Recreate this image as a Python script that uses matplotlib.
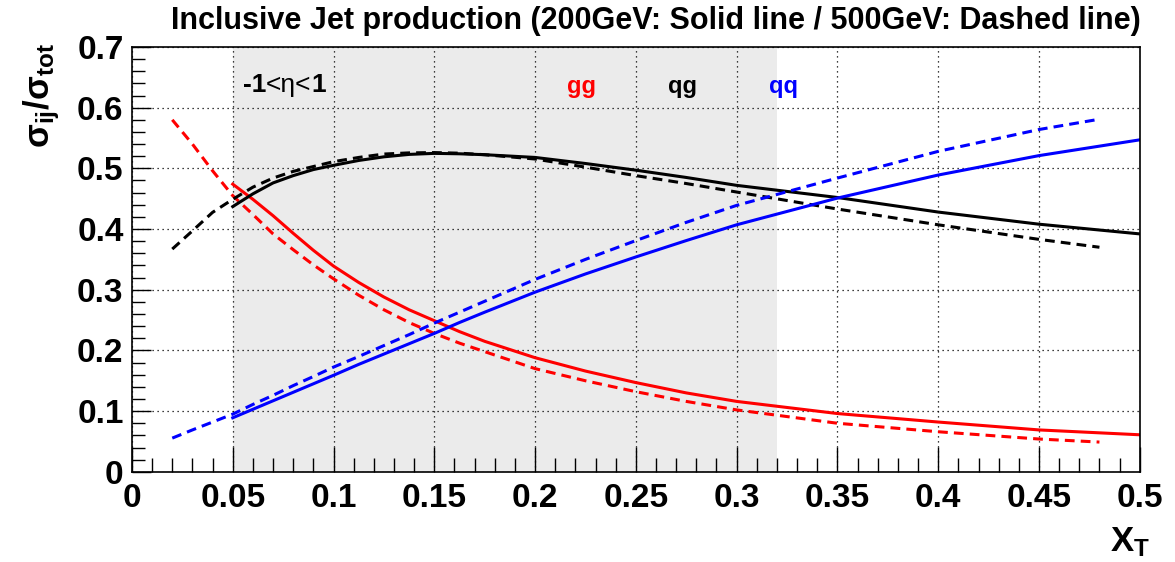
import numpy as np
import matplotlib
matplotlib.use('Agg')
import matplotlib.pyplot as plt
from matplotlib.ticker import MultipleLocator, FuncFormatter

plt.rcParams['font.family'] = ['Liberation Sans', 'DejaVu Sans']
plt.rcParams['mathtext.fontset'] = 'custom'
plt.rcParams['mathtext.rm'] = 'Liberation Sans'
plt.rcParams['mathtext.it'] = 'Liberation Sans:italic'
plt.rcParams['mathtext.bf'] = 'Liberation Sans:bold'

# x_T 取值点 (200GeV 实线 / 500GeV 虚线)
xt_200 = [0.05, 0.06, 0.07, 0.08, 0.09, 0.1, 0.1125, 0.125, 0.1375, 0.15, 0.1625, 0.175,
          0.2, 0.225, 0.25, 0.275, 0.3, 0.35, 0.4, 0.45, 0.5]
xt_500 = [0.02, 0.03, 0.04, 0.05, 0.06, 0.07, 0.08, 0.09, 0.1, 0.1125, 0.125, 0.1375, 0.15,
          0.1625, 0.175, 0.2, 0.225, 0.25, 0.275, 0.3, 0.35, 0.4, 0.45, 0.48]

# gg
gg_200 = [0.474, 0.449, 0.422, 0.393, 0.365, 0.339, 0.312, 0.288, 0.267, 0.249, 0.231, 0.215,
          0.188, 0.166, 0.147, 0.130, 0.116, 0.096, 0.082, 0.069, 0.061]
gg_500 = [0.580, 0.540, 0.496, 0.455, 0.424, 0.392, 0.366, 0.341, 0.318, 0.291, 0.267, 0.246,
          0.228, 0.212, 0.198, 0.170, 0.150, 0.132, 0.116, 0.102, 0.080, 0.066, 0.054, 0.049]
# qg
qg_200 = [0.437, 0.458, 0.476, 0.488, 0.498, 0.505, 0.513, 0.519, 0.523, 0.5247, 0.524, 0.5225,
          0.518, 0.508, 0.497, 0.485, 0.472, 0.452, 0.428, 0.408, 0.392]
qg_500 = [0.367, 0.397, 0.4275, 0.449, 0.469, 0.484, 0.495, 0.503, 0.511, 0.518, 0.5236, 0.5255,
          0.526, 0.525, 0.5225, 0.5154, 0.502, 0.488, 0.475, 0.461, 0.433, 0.407, 0.383, 0.370]
# qq
qq_200 = [0.089, 0.103, 0.117, 0.131, 0.145, 0.159, 0.177, 0.194, 0.211, 0.228, 0.246, 0.263,
          0.296, 0.326, 0.354, 0.381, 0.407, 0.451, 0.489, 0.521, 0.547]
qq_500 = [0.0555, 0.069, 0.082, 0.095, 0.111, 0.126, 0.142, 0.157, 0.1725, 0.190, 0.208, 0.226,
          0.245, 0.263, 0.281, 0.317, 0.350, 0.381, 0.411, 0.439, 0.484, 0.528, 0.564, 0.581]

eta_range = (0.05, 0.32)

fig = plt.figure(figsize=(11.75, 5.62), dpi=100)
ax = fig.add_axes([0.1123, 0.1605, 0.8577, 0.7559])

ax.axvspan(eta_range[0], eta_range[1], color='#ebebeb', lw=0, zorder=0)

dash = (0, (3.2, 2.0))
lw = 2.2
for ys200, ys500, c in [(gg_200, gg_500, '#ff0000'), (qg_200, qg_500, 'black'), (qq_200, qq_500, '#0000ff')]:
    ax.plot(xt_200, ys200, color=c, lw=lw, zorder=3, solid_joinstyle='round')
    ax.plot(xt_500, ys500, color=c, lw=lw, ls=dash, zorder=3)

ax.set_xlim(0, 0.5)
ax.set_ylim(0, 0.7)
ax.xaxis.set_major_locator(MultipleLocator(0.05))
ax.xaxis.set_minor_locator(MultipleLocator(0.01))
ax.yaxis.set_major_locator(MultipleLocator(0.1))
ax.yaxis.set_minor_locator(MultipleLocator(0.02))
fmt = FuncFormatter(lambda v, p: '%g' % round(v, 3))
ax.xaxis.set_major_formatter(fmt)
ax.yaxis.set_major_formatter(fmt)
ax.tick_params(which='both', direction='in', top=False, right=False, width=1.0, colors='black')
ax.tick_params(axis='x', which='major', length=18, pad=8, labelsize=24)
ax.tick_params(axis='x', which='minor', length=10)
ax.tick_params(axis='y', which='major', length=14, pad=6, labelsize=24)
ax.tick_params(axis='y', which='minor', length=9)
for lab in ax.get_xticklabels() + ax.get_yticklabels():
    lab.set_fontweight('bold')
ax.grid(True, which='major', color='black', ls=(0, (1, 3)), lw=0.9, zorder=1)
ax.set_axisbelow(False)
for s in ax.spines.values():
    s.set_linewidth(1.2)
    s.set_zorder(4)

fig.text(0.558, 0.962, 'Inclusive Jet production (200GeV: Solid line / 500GeV: Dashed line)',
         ha='center', va='center', fontsize=22, fontweight='bold')
fig.text(0.035, 0.83, r'$\mathbf{\sigma_{ij}/\sigma_{tot}}$', rotation=90, ha='center', va='center', fontsize=25)
fig.text(0.962, 0.035, r'$\mathbf{X_{T}}$', ha='center', va='center', fontsize=25)

# -1<η<1 : 数字加粗, 符号不加粗
t1 = ax.text(0.055, 0.617, '-1', fontsize=19, fontweight='bold', va='bottom', ha='left')
t2 = ax.annotate('<η<', xy=(1, 0), xycoords=t1, fontsize=19, va='bottom', ha='left')
ax.annotate('1', xy=(1, 0), xycoords=(t2, t1), fontsize=19, fontweight='bold', va='bottom', ha='left')

ax.text(0.223, 0.635, 'gg', color='#ff0000', fontsize=17, fontweight='bold', va='center', ha='center')
ax.text(0.273, 0.635, 'qg', color='black', fontsize=17, fontweight='bold', va='center', ha='center')
ax.text(0.3235, 0.635, 'qq', color='#0000ff', fontsize=17, fontweight='bold', va='center', ha='center')

plt.savefig('out.png', dpi=100)
